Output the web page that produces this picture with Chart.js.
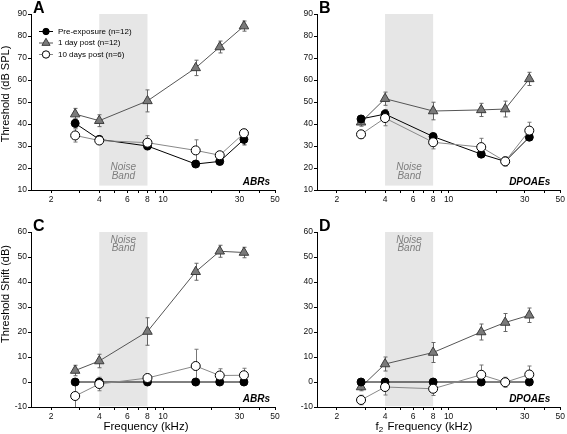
<!DOCTYPE html>
<html>
<head>
<meta charset="utf-8">
<script src="https://cdn.jsdelivr.net/npm/chart.js@4.4.1/dist/chart.umd.min.js"></script>
<style>
  body { margin: 0; background: #fff; }
  #wrap { position: relative; width: 567px; height: 434px; overflow: hidden; }
  canvas { position: absolute; }
</style>
</head>
<body>
<div id="wrap">
  <canvas id="chartA" width="283" height="216" style="left:0;top:0"></canvas>
  <canvas id="chartB" width="284" height="216" style="left:283px;top:0"></canvas>
  <canvas id="chartC" width="283" height="218" style="left:0;top:216px"></canvas>
  <canvas id="chartD" width="284" height="218" style="left:283px;top:216px"></canvas>
</div>
<script>
// frequencies (kHz) and axis ticks
const freqs = [2.83, 4, 8, 16, 22.6, 32];
const xTicks = [2, 3, 4, 5, 6, 7, 8, 9, 10, 20, 30, 40, 50];
const xLabels = [2, 4, 6, 8, 10, 30, 50];
const noiseBand = [4, 8];
const seriesNames = ["Pre-exposure (n=12)", "1 day post (n=12)", "10 days post (n=6)"];

// A: ABR thresholds (dB SPL)
const abrPre = [40.3, 33, 30, 21.8, 23, 33];
const abrPreErr = [2, 1.5, 1.5, 1, 1.5, 2.5];
const abrDay1 = [44.5, 41.5, 50.5, 65.5, 75, 84.5];
const abrDay1Err = [2.6, 2.7, 5, 3.5, 2.7, 2.3];
const abrDay10 = [34.8, 32.5, 31.5, 28, 25.8, 35.8];
const abrDay10Err = [3, 1.5, 3.2, 4.8, 1.5, 1.8];

// B: DPOAE thresholds (dB SPL)
const dpPre = [42.3, 44.5, 34.3, 26.3, 23, 34];
const dpPreErr = [1.5, 2, 1.5, 1, 2, 1.5];
const dpDay1 = [40.8, 51.5, 45.9, 46.4, 46.8, 60.5];
const dpDay1Err = [1.8, 3, 4, 3, 3.6, 3];
const dpDay10 = [35.3, 42.7, 31.7, 29.5, 23, 37];
const dpDay10Err = [1.8, 3.5, 3, 4, 2, 3.8];

// C: ABR threshold shift (dB)
const abrShiftPre = [0, 0, 0, 0, 0, 0];
const abrShiftPreErr = [0, 0, 0, 0, 0, 0];
const abrShiftDay1 = [4.6, 8.4, 20.2, 44.1, 52.3, 51.8];
const abrShiftDay1Err = [2.1, 2.7, 5.5, 3.4, 2.4, 2.1];
const abrShiftDay10 = [-5.6, -0.8, 1.6, 6.4, 2.6, 2.7];
const abrShiftDay10Err = [5, 2.7, 1.5, 6.7, 2.7, 2.8];

// D: DPOAE threshold shift (dB)
const dpShiftPre = [0, 0, 0, 0, 0, 0];
const dpShiftPreErr = [0, 0, 0, 0, 0, 0];
const dpShiftDay1 = [-2, 7.2, 11.8, 20, 23.8, 26.7];
const dpShiftDay1Err = [1.5, 2.8, 4, 3.2, 3.6, 2.9];
const dpShiftDay10 = [-7.2, -2, -2.7, 2.9, -0.1, 3];
const dpShiftDay10Err = [1.9, 3.2, 2.7, 3.9, 2, 3.4];

const FONT = "'Liberation Sans', Arial, Helvetica, sans-serif";
Chart.defaults.font.family = FONT;
Chart.defaults.color = '#000';

const styles = [
    { line: '#000', fill: '#000', edge: '#000', shape: 'circle', r: 4, bar: '#333', order: 1 },
    { line: '#555', fill: '#7a7a7a', edge: '#3c3c3c', shape: 'triangle', r: 5.5, bar: '#666', order: 2 },
    { line: '#888', fill: '#fff', edge: '#000', shape: 'circle', r: 4.5, bar: '#777', order: 0 }
];

const bandPlugin = {
    id: 'band',
    beforeDatasetsDraw(chart, args, opts) {
        const { ctx, scales: { x, y } } = chart;
        const x1 = x.getPixelForValue(noiseBand[0]);
        const x2 = x.getPixelForValue(noiseBand[1]);
        const top = y.getPixelForValue(y.max);
        const bottom = y.getPixelForValue(opts.bottom);
        ctx.save();
        ctx.fillStyle = '#e6e6e6';
        ctx.fillRect(x1, top, x2 - x1, bottom - top);
        const cx = x.getPixelForValue(Math.sqrt(noiseBand[0] * noiseBand[1]));
        ctx.fillStyle = '#7d7d7d';
        ctx.font = 'italic 10px ' + FONT;
        ctx.textAlign = 'center';
        ctx.textBaseline = 'middle';
        const ty = opts.atTop ? top + 8 : bottom - 18;
        ctx.fillText('Noise', cx, ty);
        ctx.fillText('Band', cx, ty + 8.5);
        ctx.restore();
    }
};

const errorBars = {
    id: 'errorBars',
    beforeDatasetsDraw(chart) {
        const { ctx, chartArea, scales: { x, y } } = chart;
        ctx.save();
        ctx.beginPath();
        ctx.rect(chartArea.left, chartArea.top, chartArea.width, chartArea.height);
        ctx.clip();
        ctx.lineWidth = 1;
        chart.data.datasets.forEach(ds => {
            ctx.strokeStyle = ds.barColor;
            ds.data.forEach((p, i) => {
                const e = ds.errors[i];
                if (!e) return;
                const px = Math.round(x.getPixelForValue(p.x)) + 0.5;
                const y1 = y.getPixelForValue(p.y - e);
                const y2 = y.getPixelForValue(p.y + e);
                ctx.beginPath();
                ctx.moveTo(px, y1); ctx.lineTo(px, y2);
                ctx.moveTo(px - 2, y1); ctx.lineTo(px + 2, y1);
                ctx.moveTo(px - 2, y2); ctx.lineTo(px + 2, y2);
                ctx.stroke();
            });
        });
        ctx.restore();
    }
};

const labelsPlugin = {
    id: 'panelText',
    afterDraw(chart, args, o) {
        const { ctx, chartArea } = chart;
        ctx.save();
        // panel letter
        ctx.fillStyle = '#000';
        ctx.font = 'bold 16px ' + FONT;
        ctx.textAlign = 'left';
        ctx.textBaseline = 'alphabetic';
        ctx.fillText(o.letter, chartArea.left + 2, chartArea.top - 1);
        // method
        ctx.font = 'italic bold 10px ' + FONT;
        ctx.textAlign = 'right';
        ctx.fillText(o.method, chartArea.right - o.methodOffset, chartArea.bottom - 5.5);
        // y title
        if (o.yTitle) {
            ctx.save();
            ctx.translate(o.yTitlePos[0], o.yTitlePos[1]);
            ctx.rotate(-Math.PI / 2);
            ctx.font = '11px ' + FONT;
            ctx.textAlign = 'center';
            ctx.textBaseline = 'middle';
            ctx.fillText(o.yTitle, 0, 0);
            ctx.restore();
        }
        // x title (optional subscript prefix)
        if (o.xTitle) {
            ctx.font = '11.5px ' + FONT;
            ctx.textBaseline = 'middle';
            ctx.textAlign = 'left';
            const mainW = ctx.measureText(o.xTitle).width;
            let preW = 0, subW = 0;
            if (o.xPre) {
                preW = ctx.measureText(o.xPre).width;
                ctx.font = '8px ' + FONT;
                subW = ctx.measureText(o.xSub).width + 1;
            }
            let sx = o.xTitlePos[0] - (preW + subW + mainW) / 2;
            const sy = o.xTitlePos[1];
            if (o.xPre) {
                ctx.font = '11.5px ' + FONT;
                ctx.fillText(o.xPre, sx, sy);
                ctx.font = '8px ' + FONT;
                ctx.fillText(o.xSub, sx + preW, sy + 3);
                sx += preW + subW;
            }
            ctx.font = '11.5px ' + FONT;
            ctx.fillText(o.xTitle, sx, sy);
        }
        // legend
        if (o.legend) {
            ctx.font = '8px ' + FONT;
            ctx.textAlign = 'left';
            ctx.textBaseline = 'middle';
            const rows = [31, 42.5, 54];
            styles.forEach((s, i) => {
                const ry = rows[i];
                ctx.strokeStyle = s.line;
                ctx.lineWidth = 1;
                ctx.beginPath();
                ctx.moveTo(39, ry + 0.5);
                ctx.lineTo(53, ry + 0.5);
                ctx.stroke();
                ctx.fillStyle = s.fill;
                ctx.strokeStyle = s.edge;
                Chart.helpers.drawPoint(ctx, { pointStyle: s.shape, radius: s.r - 0.8, rotation: 0, borderWidth: 1 }, 46, ry + 0.5);
                ctx.fillStyle = '#000';
                ctx.fillText(seriesNames[i], 58, ry + 0.5);
            });
        }
        ctx.restore();
    }
};

function makeDataset(values, errors, s) {
    return {
        data: freqs.map((f, i) => ({ x: f, y: values[i] })),
        errors: errors,
        barColor: s.bar,
        borderColor: s.line,
        borderWidth: 1,
        tension: 0,
        pointStyle: s.shape,
        pointRadius: s.r,
        pointBackgroundColor: s.fill,
        pointBorderColor: s.edge,
        pointBorderWidth: 1,
        order: s.order
    };
}

function makePanel(id, p) {
    const tickFont = { size: 8.5, family: FONT };
    new Chart(document.getElementById(id), {
        type: 'line',
        data: {
            datasets: [
                makeDataset(p.pre, p.preErr, styles[0]),
                makeDataset(p.day1, p.day1Err, styles[1]),
                makeDataset(p.day10, p.day10Err, styles[2])
            ]
        },
        options: {
            responsive: false,
            animation: false,
            events: [],
            layout: { padding: { top: p.top, right: p.right, left: 0, bottom: 0 } },
            scales: {
                x: {
                    type: 'logarithmic',
                    min: 1.5,
                    max: 50,
                    afterBuildTicks: s => { s.ticks = xTicks.map(v => ({ value: v })); },
                    afterFit: s => { s.height = p.xHeight; },
                    ticks: {
                        autoSkip: false,
                        maxRotation: 0,
                        padding: 2,
                        font: tickFont,
                        color: '#111',
                        callback: v => xLabels.includes(v) ? String(v) : ''
                    },
                    grid: { drawOnChartArea: false, drawTicks: true, tickLength: 3, color: '#000' },
                    border: { color: '#000', width: 1 }
                },
                y: {
                    min: p.yMin,
                    max: p.yMax,
                    afterFit: s => { s.width = p.yWidth; },
                    ticks: { stepSize: 10, padding: 1, font: tickFont, color: '#111' },
                    grid: { drawOnChartArea: false, drawTicks: true, tickLength: 3, color: '#000' },
                    border: { color: '#000', width: 1 }
                }
            },
            plugins: {
                legend: { display: false },
                tooltip: { enabled: false },
                band: { bottom: p.bandBottom, atTop: p.bandTop },
                panelText: p.text
            }
        },
        plugins: [bandPlugin, errorBars, labelsPlugin]
    });
}

makePanel('chartA', {
    pre: abrPre, preErr: abrPreErr, day1: abrDay1, day1Err: abrDay1Err, day10: abrDay10, day10Err: abrDay10Err,
    yMin: 10, yMax: 90, top: 14, right: 8, yWidth: 31, xHeight: 26, bandBottom: 12, bandTop: false,
    text: { letter: 'A', method: 'ABRs', methodOffset: 5, yTitle: 'Threshold (dB SPL)', yTitlePos: [6, 94], legend: true }
});
makePanel('chartB', {
    pre: dpPre, preErr: dpPreErr, day1: dpDay1, day1Err: dpDay1Err, day10: dpDay10, day10Err: dpDay10Err,
    yMin: 10, yMax: 90, top: 14, right: 5, yWidth: 34, xHeight: 26, bandBottom: 12, bandTop: false,
    text: { letter: 'B', method: 'DPOAEs', methodOffset: 10 }
});
makePanel('chartC', {
    pre: abrShiftPre, preErr: abrShiftPreErr, day1: abrShiftDay1, day1Err: abrShiftDay1Err, day10: abrShiftDay10, day10Err: abrShiftDay10Err,
    yMin: -10, yMax: 60, top: 16, right: 8, yWidth: 31, xHeight: 27, bandBottom: -9.7, bandTop: true,
    text: { letter: 'C', method: 'ABRs', methodOffset: 5, yTitle: 'Threshold Shift (dB)', yTitlePos: [6, 78],
            xTitle: 'Frequency (kHz)', xTitlePos: [146, 211] }
});
makePanel('chartD', {
    pre: dpShiftPre, preErr: dpShiftPreErr, day1: dpShiftDay1, day1Err: dpShiftDay1Err, day10: dpShiftDay10, day10Err: dpShiftDay10Err,
    yMin: -10, yMax: 60, top: 16, right: 5, yWidth: 34, xHeight: 27, bandBottom: -9.7, bandTop: true,
    text: { letter: 'D', method: 'DPOAEs', methodOffset: 10, xPre: 'f', xSub: '2', xTitle: ' Frequency (kHz)', xTitlePos: [141, 211] }
});
</script>
</body>
</html>
